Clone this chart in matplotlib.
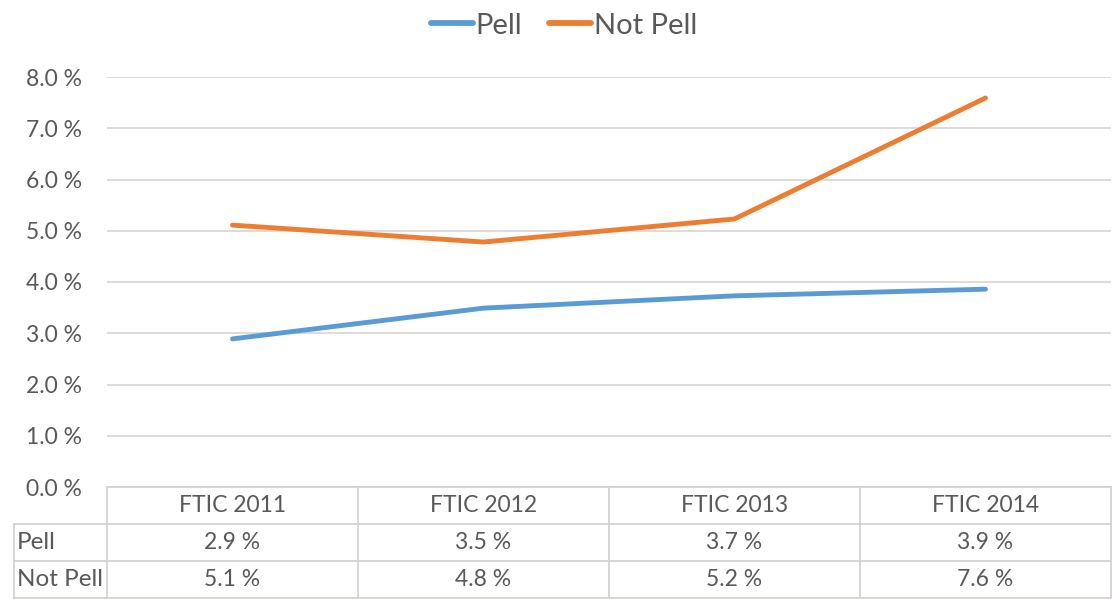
import matplotlib.pyplot as plt

plt.rcParams['font.family'] = ['Lato', 'DejaVu Sans']

# data
categories = ['FTIC 2011', 'FTIC 2012', 'FTIC 2013', 'FTIC 2014']
pell = [2.89, 3.49, 3.73, 3.86]
not_pell = [5.11, 4.78, 5.23, 7.59]
series_names = ['Pell', 'Not Pell']
yticks = [0, 1, 2, 3, 4, 5, 6, 7, 8]

blue = '#5B9BD5'
orange = '#ED7D31'
grey_txt = '#595959'
grid_col = '#DDD8D8'

W, H = 1115, 599
fig = plt.figure(figsize=(W / 100, H / 100), dpi=100)

# plot area in pixels
left, right, top, bottom = 107, 1111, 77, 487
ax = fig.add_axes([left / W, 1 - bottom / H, (right - left) / W, (bottom - top) / H])
x = list(range(len(categories)))
ax.plot(x, pell, color=blue, lw=3.5, solid_capstyle='round', label=series_names[0])
ax.plot(x, not_pell, color=orange, lw=3.5, solid_capstyle='round', label=series_names[1])
ax.set_xlim(-0.5, len(categories) - 0.5)
ax.set_ylim(0, 8)
ax.set_yticks(yticks)
ax.set_yticklabels(['%.1f %%' % t for t in yticks])
ax.set_xticks([])
ax.tick_params(axis='y', length=0, pad=18, labelsize=16.5, labelcolor=grey_txt)
for s in ax.spines.values():
    s.set_visible(False)
ax.grid(axis='y', color=grid_col, lw=1.3)
ax.set_axisbelow(True)

leg = ax.legend(loc='lower center', bbox_to_anchor=(0.5 - 0.045, 1.065), ncol=2, frameon=False,
                fontsize=21, handlelength=1.45, handletextpad=0.1, columnspacing=0.9,
                labelcolor=grey_txt, borderaxespad=0)
for h in leg.get_lines():
    h.set_linewidth(4.2)

# data table below
tab_left, tab_top, tab_bottom = 14, 487, 598
lab_w = (left - tab_left) / ((right - left) / len(categories))
tax = fig.add_axes([tab_left / W, 1 - tab_bottom / H, (right - tab_left) / W, (tab_bottom - tab_top) / H])
tax.set_xlim(-0.5 - lab_w, len(categories) - 0.5)
tax.set_ylim(3, 0)
tax.axis('off')
lc = '#D6D2D2'
lw = 1.3
x0 = -0.5 - lab_w
x1 = len(categories) - 0.5
tax.plot([-0.5, x1], [0, 0], color=lc, lw=lw, clip_on=False)
for r in [1, 2, 3]:
    tax.plot([x0, x1], [r, r], color=lc, lw=lw, clip_on=False)
tax.plot([x0, x0], [1, 3], color=lc, lw=lw, clip_on=False)
for i in range(len(categories) + 1):
    tax.plot([i - 0.5, i - 0.5], [0, 3], color=lc, lw=lw, clip_on=False)
for i, c in enumerate(categories):
    tax.text(i, 0.5, c, ha='center', va='center', fontsize=16.5, color=grey_txt)
rows = [pell, not_pell]
for r, (name, vals) in enumerate(zip(series_names, rows)):
    tax.text(x0 + 0.01, r + 1.5, name, ha='left', va='center', fontsize=17.5, color=grey_txt)
    for i, v in enumerate(vals):
        tax.text(i, r + 1.5, '%.1f %%' % v, ha='center', va='center', fontsize=16.5, color=grey_txt)

fig.savefig('out.png', dpi=100)
